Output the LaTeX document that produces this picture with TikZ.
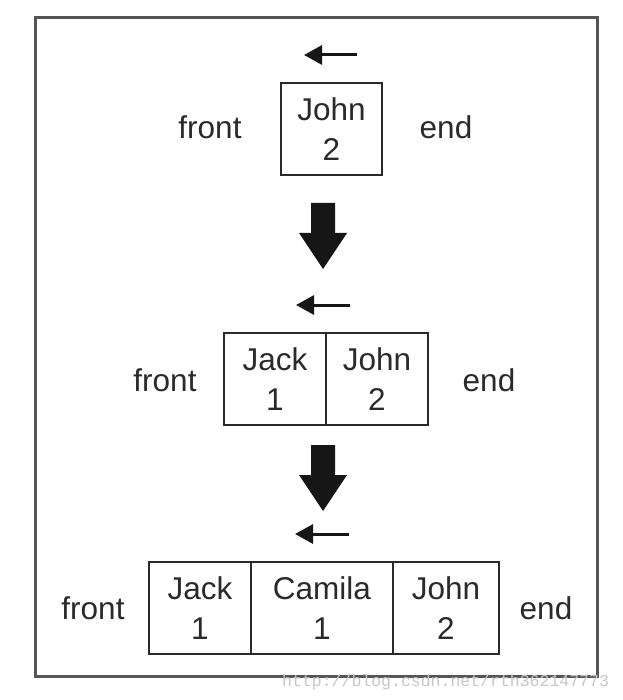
\documentclass[tikz,border=0pt]{standalone}
\usepackage{fontspec}
\setmainfont{Liberation Sans}
\newfontfamily\wmfont{Liberation Mono}
\usetikzlibrary{arrows.meta}
\definecolor{ink}{HTML}{2A2A2A}
\definecolor{framec}{HTML}{555555}
\definecolor{arrowc}{HTML}{161616}
\tikzset{
  cell/.style={draw=ink, line width=1.8pt, minimum height=92pt, inner sep=0pt,
    anchor=north west, align=center, text=ink, font=\fontsize{31.5}{40}\selectfont},
  lbl/.style={anchor=base, text=ink, inner sep=0pt, font=\fontsize{31.5}{36}\selectfont},
  smallarrow/.style={draw=arrowc, line width=3pt, -{Triangle[length=18pt,width=19pt]}},
  bigarrow/.style={fill=arrowc, draw=none}
}
\begin{document}
\begin{tikzpicture}[x=1pt,y=-1pt]
\useasboundingbox (0,0) rectangle (622,700);
\fill[white] (0,0) rectangle (622,700);
% frame
\draw[framec, line width=3pt] (35,18) rectangle (597,676);

% row 1
\coordinate (s1a) at (357,55);
\coordinate (s1b) at (304,55);
\draw[smallarrow] (s1a) -- (s1b);
\node[cell, minimum width=101pt] (b1) at (280,82) {John\\2};
\node[lbl] (f1) at (210,139) {front};
\node[lbl] (e1) at (446,139) {end};

% big arrow 1
\fill[bigarrow] (311,203) -- (335,203) -- (335,233) -- (347,233) -- (323,269)
  -- (299,233) -- (311,233) -- cycle;

% row 2
\coordinate (s2a) at (350,305);
\coordinate (s2b) at (296,305);
\draw[smallarrow] (s2a) -- (s2b);
\node[cell, minimum width=102pt] (b2a) at (223,332) {Jack\\1};
\node[cell, minimum width=102pt] (b2b) at (325,332) {John\\2};
\node[lbl] (f2) at (165,391) {front};
\node[lbl] (e2) at (489,391) {end};

% big arrow 2
\fill[bigarrow] (311,445) -- (335,445) -- (335,475) -- (347,475) -- (323,511)
  -- (299,475) -- (311,475) -- cycle;

% row 3
\coordinate (s3a) at (349,534);
\coordinate (s3b) at (295,534);
\draw[smallarrow] (s3a) -- (s3b);
\node[cell, minimum width=102pt] (b3a) at (148,561) {Jack\\1};
\node[cell, minimum width=142pt] (b3b) at (250,561) {Camila\\1};
\node[cell, minimum width=106pt] (b3c) at (392,561) {John\\2};
\node[lbl] (f3) at (93,619) {front};
\node[lbl] (e3) at (546,619) {end};

% watermark
\node[anchor=base west, inner sep=0pt, text=black!22, font=\wmfont\fontsize{16.5}{18}\selectfont] (wm) at (282,686) {http://blog.csdn.net/rth362147773};
\end{tikzpicture}
\end{document}
